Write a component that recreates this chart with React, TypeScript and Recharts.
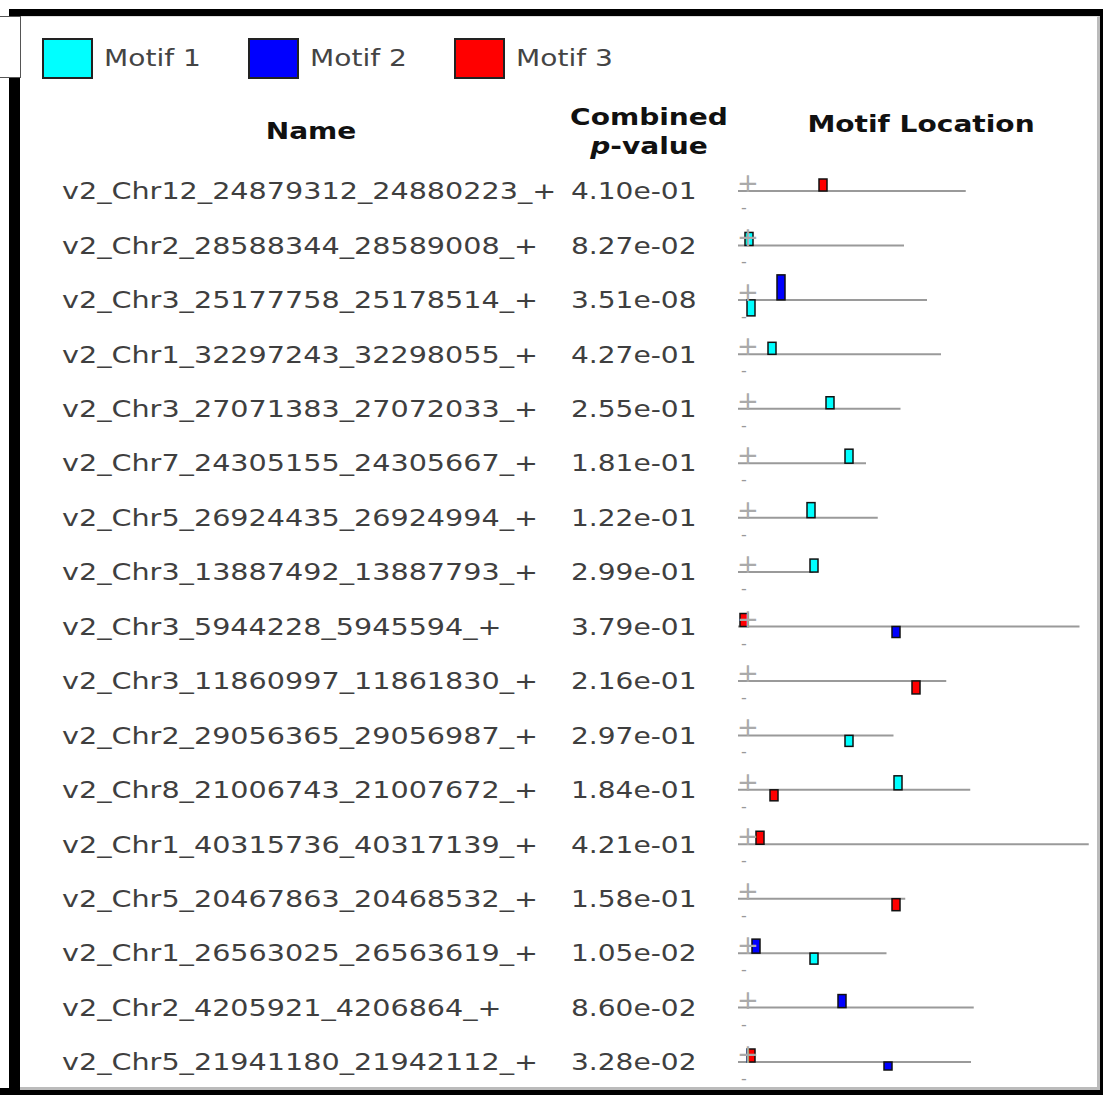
import React from "react";
import {
  ReferenceLine,
  Scatter,
  ScatterChart,
  XAxis,
  YAxis,
} from "recharts";

// sequence names, combined p-values and sequence lengths (bp), top to bottom
const names = [
  "v2_Chr12_24879312_24880223_+",
  "v2_Chr2_28588344_28589008_+",
  "v2_Chr3_25177758_25178514_+",
  "v2_Chr1_32297243_32298055_+",
  "v2_Chr3_27071383_27072033_+",
  "v2_Chr7_24305155_24305667_+",
  "v2_Chr5_26924435_26924994_+",
  "v2_Chr3_13887492_13887793_+",
  "v2_Chr3_5944228_5945594_+",
  "v2_Chr3_11860997_11861830_+",
  "v2_Chr2_29056365_29056987_+",
  "v2_Chr8_21006743_21007672_+",
  "v2_Chr1_40315736_40317139_+",
  "v2_Chr5_20467863_20468532_+",
  "v2_Chr1_26563025_26563619_+",
  "v2_Chr2_4205921_4206864_+",
  "v2_Chr5_21941180_21942112_+",
];

const pValues = [
  "4.10e-01", "8.27e-02", "3.51e-08", "4.27e-01", "2.55e-01", "1.81e-01",
  "1.22e-01", "2.99e-01", "3.79e-01", "2.16e-01", "2.97e-01", "1.84e-01",
  "4.21e-01", "1.58e-01", "1.05e-02", "8.60e-02", "3.28e-02",
];

const seqLengths = [
  911, 664, 756, 812, 650, 512, 559, 301, 1366, 833, 622, 929, 1403, 669,
  594, 943, 932,
];

// motif sites: row, start (bp), strand, significance (-log10 site p)
const motif1Sites = [
  { row: 1, start: 28, strand: "+", sig: 6.5 },
  { row: 2, start: 36, strand: "-", sig: 8 },
  { row: 3, start: 120, strand: "+", sig: 6 },
  { row: 4, start: 352, strand: "+", sig: 6 },
  { row: 5, start: 428, strand: "+", sig: 7 },
  { row: 6, start: 276, strand: "+", sig: 7.5 },
  { row: 7, start: 288, strand: "+", sig: 6.5 },
  { row: 10, start: 428, strand: "-", sig: 5.5 },
  { row: 11, start: 624, strand: "+", sig: 7 },
  { row: 14, start: 288, strand: "-", sig: 5.5 },
];

const motif2Sites = [
  { row: 2, start: 156, strand: "+", sig: 12.5 },
  { row: 8, start: 616, strand: "-", sig: 5.5 },
  { row: 14, start: 56, strand: "+", sig: 7 },
  { row: 15, start: 400, strand: "+", sig: 6.5 },
  { row: 16, start: 584, strand: "-", sig: 4 },
];

const motif3Sites = [
  { row: 0, start: 324, strand: "+", sig: 6 },
  { row: 8, start: 8, strand: "+", sig: 6.5 },
  { row: 9, start: 696, strand: "-", sig: 6.5 },
  { row: 11, start: 128, strand: "-", sig: 5.5 },
  { row: 12, start: 72, strand: "+", sig: 6.5 },
  { row: 13, start: 616, strand: "-", sig: 6 },
  { row: 16, start: 36, strand: "+", sig: 6.5 },
];

const motifNames = ["Motif 1", "Motif 2", "Motif 3"];
const motifColors = ["#00ffff", "#0000ff", "#ff0000"];

const MOTIF_BP = 32;
const FONT = "'DejaVu Sans', Verdana, sans-serif";
const SX = 1.22;

const toPoints = (sites: typeof motif1Sites) =>
  sites.map((s) => ({ ...s, x: s.start + MOTIF_BP / 2 }));

const motifBox = (color: string) => (props: any) => {
  const { cx, cy, payload } = props;
  const h = payload.sig * 2;
  return (
    <rect
      x={cx - 4}
      y={payload.strand === "+" ? cy - h : cy}
      width={8}
      height={h}
      fill={color}
      stroke="#111"
      strokeWidth={1.5}
    />
  );
};

const RowTick = (props: any) => {
  const { y, payload } = props;
  const i = payload.value;
  return (
    <g>
      <text
        transform={`translate(62, ${y}) scale(1.245, 1)`}
        dy="0.36em"
        fontSize={23}
        fontFamily={FONT}
        fill="#3f3f3f"
      >
        {names[i]}
      </text>
      <text
        transform={`translate(571, ${y}) scale(${SX}, 1)`}
        dy="0.36em"
        fontSize={23}
        fontFamily={FONT}
        fill="#3f3f3f"
      >
        {pValues[i]}
      </text>
      <text x={748} y={y + 1} textAnchor="middle" fontSize={26} fontFamily={FONT} fill="#aaa">
        +
      </text>
      <text x={744} y={y + 22} textAnchor="middle" fontSize={16} fontFamily={FONT} fill="#999">
        -
      </text>
    </g>
  );
};

const Txt = ({ x, y, w = 400, align = "center", bold = false, color = "#444", children }: any) => (
  <div
    style={{
      position: "absolute",
      left: align === "center" ? x - w / 2 : x,
      top: y - 15,
      width: w,
      height: 30,
      lineHeight: "30px",
      textAlign: align,
      fontFamily: FONT,
      fontSize: 23,
      fontWeight: bold ? "bold" : "normal",
      color,
      whiteSpace: "nowrap",
      transform: `scaleX(${SX})`,
      transformOrigin: align === "center" ? "center" : "left center",
    }}
  >
    {children}
  </div>
);

const box = (l: number, t: number, w: number, h: number, style: any) => (
  <div style={{ position: "absolute", left: l, top: t, width: w, height: h, ...style }} />
);

const rows = names.map((_, i) => i);

const App = () => {
  return (
    <div style={{ position: "relative", width: 1103, height: 1095, background: "#fff", overflow: "hidden" }}>
      <style>{"body{margin:0}"}</style>
      {/* frame */}
      {box(9, 9, 1094, 8, { background: "#000" })}
      {box(9, 77, 11, 1018, { background: "#000" })}
      {box(1099, 9, 4, 1086, { background: "#000" })}
      {box(0, 1088, 1103, 7, { background: "#000" })}
      {box(20, 16, 1077, 1070, { background: "#fff", borderRight: "3px solid #bbb", borderBottom: "3px solid #bbb", borderTop: "1px solid #ddd" })}
      {box(0, 16, 20, 60, { background: "#fff", borderTop: "1px solid #555", borderBottom: "1px solid #555", borderRight: "1px solid #555" })}

      {/* legend */}
      {motifNames.map((m, i) => (
        <React.Fragment key={m}>
          {box(42 + i * 206, 38, 47, 37, { background: motifColors[i], border: "2px solid #222" })}
          <Txt x={104 + i * 206} y={58} align="left">{m}</Txt>
        </React.Fragment>
      ))}

      {/* headers */}
      <Txt x={311} y={131} bold color="#111">Name</Txt>
      <Txt x={649} y={117} bold color="#111">Combined</Txt>
      <Txt x={649} y={146} bold color="#111">
        <i>p</i>-value
      </Txt>
      <Txt x={921} y={124} bold color="#111">Motif Location</Txt>

      <div style={{ position: "absolute", left: 0, top: 0 }}>
        <ScatterChart
          width={1103}
          height={1095}
          margin={{ top: 191, right: 10, bottom: 33, left: 0 }}
        >
          <XAxis type="number" dataKey="x" domain={[0, 1420]} hide />
          <YAxis
            type="number"
            dataKey="row"
            domain={[0, 16]}
            ticks={rows}
            reversed
            width={738}
            axisLine={false}
            tickLine={false}
            interval={0}
            tick={(p: any) => <RowTick {...p} />}
          />
          {seqLengths.map((len, i) => (
            <ReferenceLine
              key={i}
              segment={[
                { x: 0, y: i },
                { x: len, y: i },
              ]}
              stroke="#9a9a9a"
              strokeWidth={2}
              ifOverflow="visible"
            />
          ))}
          <Scatter data={toPoints(motif1Sites)} shape={motifBox(motifColors[0])} isAnimationActive={false} />
          <Scatter data={toPoints(motif2Sites)} shape={motifBox(motifColors[1])} isAnimationActive={false} />
          <Scatter data={toPoints(motif3Sites)} shape={motifBox(motifColors[2])} isAnimationActive={false} />
        </ScatterChart>
      </div>
    </div>
  );
};

export default App;
